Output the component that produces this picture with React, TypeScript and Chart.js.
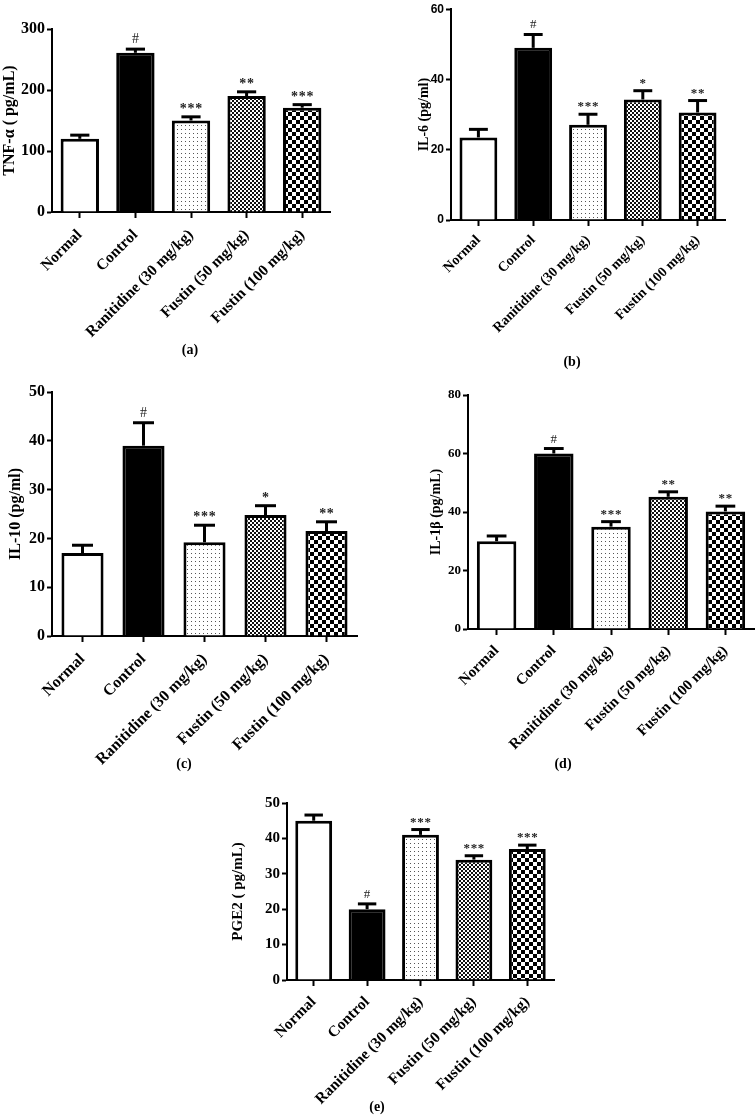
import React, { useEffect, useRef } from "react";
import { Chart, registerables } from "chart.js";

Chart.register(...registerables);

// ---------- data ----------
const categories = [
  "Normal",
  "Control",
  "Ranitidine (30 mg/kg)",
  "Fustin (50 mg/kg)",
  "Fustin (100 mg/kg)",
];

const tnfValues = [120, 261, 150, 190, 171];
const tnfErrors = [6, 6, 6, 7, 5];
const tnfMarks = ["", "#", "***", "**", "***"];

const il6Values = [23.5, 49, 27.1, 34.3, 30.6];
const il6Errors = [2.3, 3.8, 3.0, 2.5, 3.4];
const il6Marks = ["", "#", "***", "*", "**"];

const il10Values = [17, 39, 19.2, 24.8, 21.5];
const il10Errors = [1.6, 4.7, 3.5, 1.9, 1.9];
const il10Marks = ["", "#", "***", "*", "**"];

const il1bValues = [30, 60, 35, 45.2, 40.2];
const il1bErrors = [1.8, 1.7, 1.7, 1.7, 1.8];
const il1bMarks = ["", "#", "***", "**", "**"];

const pge2Values = [45, 20, 41, 34, 37];
const pge2Errors = [1.6, 1.5, 1.5, 1.1, 1.1];
const pge2Marks = ["", "#", "***", "***", "***"];

const fillKinds = ["white", "black", "dots", "fine", "coarse"];

// ---------- layout / style ----------
const SERIF = "'Liberation Serif', 'Times New Roman', serif";
const SANS = "'Liberation Sans', Arial, sans-serif";

type Panel = {
  key: string;
  label: string;
  title: string;
  values: number[];
  errors: number[];
  marks: string[];
  yMax: number;
  yStep: number;
  canvas: { left: number; top: number; width: number; height: number };
  area: { left: number; top: number; right: number; bottom: number };
  tickFamily: string;
  tickSize: number;
  xSize: number;
  xPad: number;
  titleSize: number;
  markSize: number;
  labelPos: { x: number; y: number };
};

const panels: Panel[] = [
  {
    key: "a",
    label: "(a)",
    title: "TNF-\u03b1 ( pg/mL)",
    values: tnfValues,
    errors: tnfErrors,
    marks: tnfMarks,
    yMax: 300,
    yStep: 100,
    canvas: { left: 0, top: 0, width: 345, height: 345 },
    area: { left: 52, top: 29, right: 330, bottom: 212 },
    tickFamily: SERIF,
    tickSize: 16,
    xSize: 15.5,
    xPad: 8,
    titleSize: 16,
    markSize: 14,
    labelPos: { x: 190, y: 350 },
  },
  {
    key: "b",
    label: "(b)",
    title: "IL-6 (pg/ml)",
    values: il6Values,
    errors: il6Errors,
    marks: il6Marks,
    yMax: 60,
    yStep: 20,
    canvas: { left: 416, top: 0, width: 340, height: 345 },
    area: { left: 451, top: 5, right: 725, bottom: 220 },
    tickFamily: SANS,
    tickSize: 12,
    xSize: 14,
    xPad: 6,
    titleSize: 14,
    markSize: 13,
    labelPos: { x: 572, y: 362 },
  },
  {
    key: "c",
    label: "(c)",
    title: "IL-10 (pg/ml)",
    values: il10Values,
    errors: il10Errors,
    marks: il10Marks,
    yMax: 50,
    yStep: 10,
    canvas: { left: 6, top: 360, width: 360, height: 420 },
    area: { left: 52, top: 392, right: 357, bottom: 636 },
    tickFamily: SERIF,
    tickSize: 16,
    xSize: 16,
    xPad: 8,
    titleSize: 16,
    markSize: 14,
    labelPos: { x: 184, y: 764 },
  },
  {
    key: "d",
    label: "(d)",
    title: "IL-1\u03b2 (pg/mL)",
    values: il1bValues,
    errors: il1bErrors,
    marks: il1bMarks,
    yMax: 80,
    yStep: 20,
    canvas: { left: 428, top: 360, width: 328, height: 420 },
    area: { left: 468, top: 395, right: 754, bottom: 629 },
    tickFamily: SERIF,
    tickSize: 13,
    xSize: 15,
    xPad: 7,
    titleSize: 14,
    markSize: 13,
    labelPos: { x: 563, y: 764 },
  },
  {
    key: "e",
    label: "(e)",
    title: "PGE2 ( pg/mL)",
    values: pge2Values,
    errors: pge2Errors,
    marks: pge2Marks,
    yMax: 50,
    yStep: 10,
    canvas: { left: 229, top: 770, width: 340, height: 346 },
    area: { left: 287, top: 803, right: 554, bottom: 980 },
    tickFamily: SERIF,
    tickSize: 15,
    xSize: 15.5,
    xPad: 7,
    titleSize: 15,
    markSize: 13,
    labelPos: { x: 377, y: 1107 },
  },
];

function makeFill(kind: string): string | CanvasPattern {
  if (kind === "white") return "#ffffff";
  if (kind === "black") return "#000000";
  const c = document.createElement("canvas");
  const g = c.getContext("2d")!;
  if (kind === "dots") {
    c.width = 4;
    c.height = 4;
    g.fillStyle = "#ffffff";
    g.fillRect(0, 0, 4, 4);
    g.fillStyle = "#555555";
    g.fillRect(1, 1, 1, 1);
  } else if (kind === "fine") {
    c.width = 4;
    c.height = 4;
    g.fillStyle = "#ffffff";
    g.fillRect(0, 0, 4, 4);
    g.fillStyle = "#111111";
    g.fillRect(0, 0, 2, 2);
    g.fillRect(2, 2, 2, 2);
  } else {
    c.width = 8;
    c.height = 8;
    g.fillStyle = "#ffffff";
    g.fillRect(0, 0, 8, 8);
    g.fillStyle = "#000000";
    g.fillRect(0, 0, 4, 4);
    g.fillRect(4, 4, 4, 4);
  }
  return g.createPattern(c, "repeat") as CanvasPattern;
}

function PanelChart({ p }: { p: Panel }) {
  const ref = useRef<HTMLCanvasElement | null>(null);

  useEffect(() => {
    if (!ref.current) return;
    const yWidth = p.area.left - p.canvas.left;
    const xHeight = p.canvas.top + p.canvas.height - p.area.bottom;
    const padTop = p.area.top - p.canvas.top;
    const padRight = p.canvas.left + p.canvas.width - p.area.right;

    const errorPlugin = {
      id: "errorBars" + p.key,
      afterDatasetsDraw(chart: any) {
        const ctx = chart.ctx;
        const meta = chart.getDatasetMeta(0);
        const yScale = chart.scales.y;
        ctx.save();
        meta.data.forEach((bar: any, i: number) => {
          const pr = bar.getProps(["x", "y", "width"], true);
          const yTop = yScale.getPixelForValue(p.values[i] + p.errors[i]);
          const capHalf = pr.width * 0.25;
          ctx.strokeStyle = "#000";
          ctx.lineWidth = 3;
          ctx.lineCap = "butt";
          ctx.beginPath();
          ctx.moveTo(pr.x, pr.y);
          ctx.lineTo(pr.x, yTop);
          ctx.stroke();
          ctx.beginPath();
          ctx.moveTo(pr.x - capHalf, yTop);
          ctx.lineTo(pr.x + capHalf, yTop);
          ctx.stroke();
          const m = p.marks[i];
          if (m) {
            ctx.fillStyle = "#222";
            ctx.textAlign = "center";
            ctx.textBaseline = "alphabetic";
            if (m === "#") {
              ctx.font = "normal " + p.markSize + "px " + SERIF;
              ctx.fillText(m, pr.x, yTop - 6);
            } else {
              ctx.font = "bold " + p.markSize + "px " + SERIF;
              const n = m.length;
              const step = p.markSize * 0.55;
              for (let k = 0; k < n; k++) {
                const x = pr.x + (k - (n - 1) / 2) * step;
                ctx.fillText("*", x, yTop - 4);
              }
            }
          }
        });
        ctx.restore();
      },
    };

    const gridOpts = {
      display: true,
      drawOnChartArea: false,
      drawTicks: true,
      tickLength: 5,
      tickWidth: 2,
      tickColor: "#000",
      offset: false,
    };

    const chart = new Chart(ref.current, {
      type: "bar",
      data: {
        labels: categories,
        datasets: [
          {
            data: p.values,
            backgroundColor: fillKinds.map(makeFill) as any,
            borderColor: "#000",
            borderWidth: 3,
            barPercentage: 0.69,
            categoryPercentage: 1,
          },
        ],
      },
      options: {
        responsive: false,
        maintainAspectRatio: false,
        animation: false,
        layout: {
          autoPadding: false,
          padding: { left: 0, top: padTop, right: padRight, bottom: 0 },
        },
        plugins: {
          legend: { display: false },
          tooltip: { enabled: false },
          title: { display: false },
        },
        scales: {
          x: {
            type: "category",
            offset: true,
            grid: { ...gridOpts, tickLength: 6 },
            border: { display: true, width: 2, color: "#000" },
            ticks: {
              color: "#000",
              autoSkip: false,
              minRotation: 45,
              maxRotation: 45,
              padding: p.xPad,
              font: { family: SERIF, size: p.xSize, weight: "bold" },
            },
            afterFit: (s: any) => {
              s.height = xHeight;
            },
          },
          y: {
            min: 0,
            max: p.yMax,
            grid: gridOpts,
            border: { display: true, width: 2, color: "#000" },
            ticks: {
              stepSize: p.yStep,
              color: "#000",
              padding: 2,
              font: { family: p.tickFamily, size: p.tickSize, weight: "bold" },
            },
            title: {
              display: true,
              text: p.title,
              color: "#000",
              padding: 0,
              font: { family: SERIF, size: p.titleSize, weight: "bold" },
            },
            afterFit: (s: any) => {
              s.width = yWidth;
            },
          },
        },
      } as any,
      plugins: [errorPlugin],
    });
    return () => chart.destroy();
  }, [p]);

  return (
    <canvas
      ref={ref}
      width={p.canvas.width}
      height={p.canvas.height}
      style={{
        position: "absolute",
        left: p.canvas.left,
        top: p.canvas.top,
        width: p.canvas.width,
        height: p.canvas.height,
      }}
    />
  );
}

export default function App() {
  return (
    <div
      style={{
        position: "absolute",
        left: 0,
        top: 0,
        width: 756,
        height: 1116,
        background: "#fff",
        overflow: "hidden",
      }}
    >
      {panels.map((p) => (
        <PanelChart key={p.key} p={p} />
      ))}
      {panels.map((p) => (
        <div
          key={"lbl" + p.key}
          style={{
            position: "absolute",
            left: p.labelPos.x - 20,
            top: p.labelPos.y - 9,
            width: 40,
            textAlign: "center",
            fontFamily: SERIF,
            fontWeight: "bold",
            fontSize: 14,
            lineHeight: "18px",
            color: "#000",
          }}
        >
          {p.label}
        </div>
      ))}
    </div>
  );
}
